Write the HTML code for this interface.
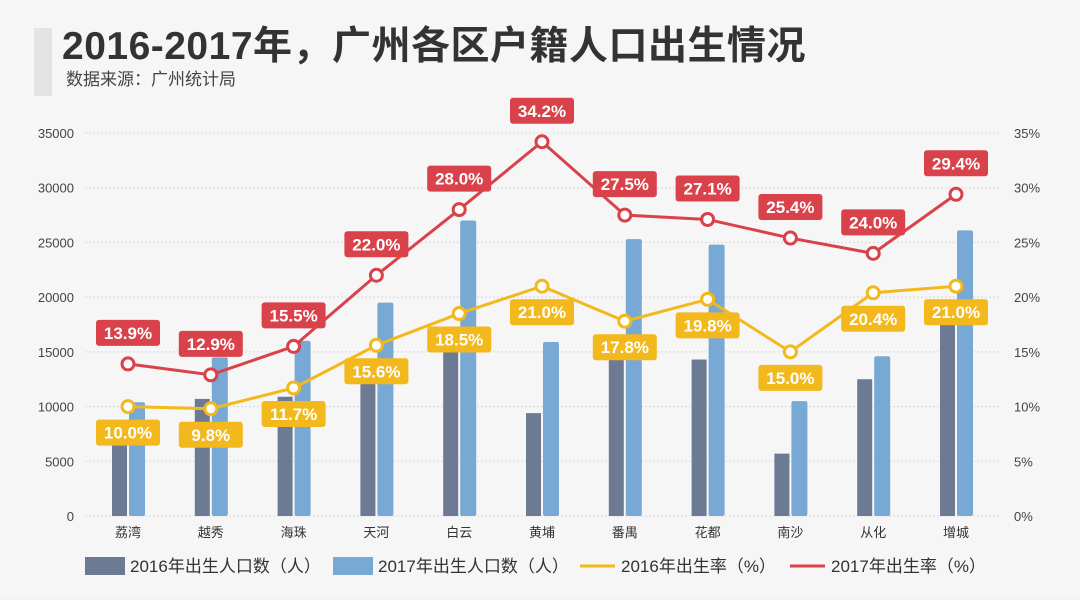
<!DOCTYPE html>
<html><head><meta charset="utf-8"><style>
body{margin:0;width:1080px;height:595px;overflow:hidden;background:#f4f4f4;font-family:"Liberation Sans","Noto Sans CJK SC",sans-serif}
</style></head><body>
<svg id="c" width="1080" height="595" xmlns="http://www.w3.org/2000/svg">
<rect x="0" y="0" width="1080" height="595" fill="#f6f6f6"/>
<rect x="34" y="28" width="18" height="68" fill="#e4e4e4"/>
<text x="62" y="59" font-size="39" font-weight="bold" letter-spacing="0.5" fill="#333">2016-2017年，广州各区户籍人口出生情况</text>
<text x="66" y="85" font-size="17" fill="#444">数据来源：广州统计局</text>
<g id="grid"></g><g id="bars"></g><g id="lines"></g><g id="labels"></g>
<g font-size="17" fill="#333">
<rect x="85" y="557" width="40" height="18" fill="#6d7a94"/>
<text x="130" y="572">2016年出生人口数（人）</text>
<rect x="333" y="557" width="40" height="18" fill="#78a9d4"/>
<text x="378" y="572">2017年出生人口数（人）</text>
<line x1="580" y1="566" x2="615" y2="566" stroke="#f2b81c" stroke-width="3"/>
<text x="621" y="572">2016年出生率（%）</text>
<line x1="790" y1="566" x2="825" y2="566" stroke="#d9424a" stroke-width="3"/>
<text x="831" y="572">2017年出生率（%）</text>
</g>
</svg>
<script>
const categories=["荔湾","越秀","海珠","天河","白云","黄埔","番禺","花都","南沙","从化","增城"];
const births2016=[8500,10700,10900,13000,15500,9400,15000,14300,5700,12500,18000];
const births2017=[10400,14500,16000,19500,27000,15900,25300,24800,10500,14600,26100];
const rate2016=[10.0,9.8,11.7,15.6,18.5,21.0,17.8,19.8,15.0,20.4,21.0];
const rate2017=[13.9,12.9,15.5,22.0,28.0,34.2,27.5,27.1,25.4,24.0,29.4];
const leftTicks=[0,5000,10000,15000,20000,25000,30000,35000];
const rightTicks=[0,5,10,15,20,25,30,35];
const NS="http://www.w3.org/2000/svg";
const y0=516,yTop=133;
const yL=v=>y0-(v/35000)*(y0-yTop);
const yR=v=>y0-(v/35)*(y0-yTop);
const xC=i=>128+i*82.8;
function mk(p,t,a){const e=document.createElementNS(NS,t);for(const k in a)e.setAttribute(k,a[k]);document.getElementById(p).appendChild(e);return e;}
leftTicks.forEach((t,i)=>{
 const l=mk('grid','line',{x1:85,x2:1000,y1:yL(t),y2:yL(t),stroke:'#d8d8d8','stroke-dasharray':'2,2'});
 
 
 const a=mk('grid','text',{x:74,y:yL(t)+5,'text-anchor':'end','font-size':13,fill:'#444'});a.textContent=t;
 
 
 const b=mk('grid','text',{x:1014,y:yR(rightTicks[i])+5,'font-size':13,fill:'#444'});b.textContent=rightTicks[i]+'%';
 
 
});
categories.forEach((c,i)=>{
 const t=mk('grid','text',{x:xC(i),y:537,'text-anchor':'middle','font-size':13,fill:'#333'});t.textContent=c;
 
 
 const d=mk('bars','rect',{x:xC(i)-16,y:yL(births2016[i]),width:15,height:y0-yL(births2016[i]),fill:'#6d7a94'});
 
 
 const b=mk('bars','rect',{x:xC(i)+1,y:yL(births2017[i]),width:16,height:y0-yL(births2017[i]),fill:'#78a9d4',rx:2});
 
 
});
function series(arr,color,name,off){
 const pl=mk('lines','polyline',{points:arr.map((v,i)=>xC(i)+','+yR(v)).join(' '),fill:'none',stroke:color,'stroke-width':3});
 
 
 arr.forEach((v,i)=>{
  const c=mk('lines','circle',{cx:xC(i),cy:yR(v),r:6,fill:'#fff',stroke:color,'stroke-width':3});
  
  
  const ly=yR(v)+off;
  const r=mk('labels','rect',{x:xC(i)-32,y:ly-13,width:64,height:26,rx:3,fill:color});
  
  
  const t=mk('labels','text',{x:xC(i),y:ly+6,'text-anchor':'middle','font-size':17,'font-weight':'bold',fill:'#fff'});
  t.textContent=v.toFixed(1)+'%';
  
  
 });
}
series(rate2016,'#f2b81c','rate-2016',26);
series(rate2017,'#d9424a','rate-2017',-31);
</script>
</body></html>
